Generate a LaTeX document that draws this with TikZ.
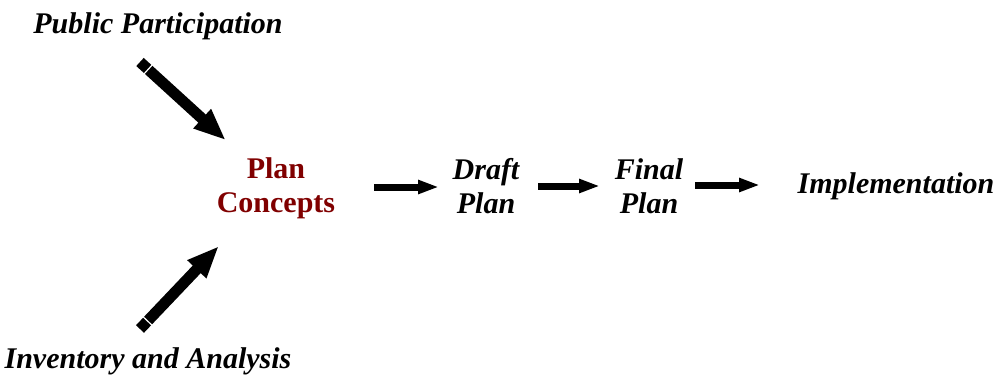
\documentclass[tikz,border=0pt]{standalone}
\usepackage{fontspec}
\setmainfont{Liberation Serif}
\usetikzlibrary{arrows.meta,calc}
\definecolor{maroon}{RGB}{128,0,0}

\tikzset{
  lbl/.style={font=\fontsize{30}{34}\selectfont\bfseries\itshape, align=center, inner sep=0pt, anchor=base},
  bigarrow/.style={line width=11pt, -{Triangle[width=24pt,length=32pt]}},
  smallarrow/.style={line width=7pt, -{Triangle[width=13pt,length=21pt]}},
}

\begin{document}
\begin{tikzpicture}[x=1pt,y=-1pt]
				\useasboundingbox (0,0) rectangle (1005,381);
				\node[lbl] (pp) at (158,33) {Public Participation};
				\node[lbl] (ia) at (148,368) {Inventory and Analysis};
				\node[lbl,font=\fontsize{30}{34}\selectfont\bfseries,text=maroon] (pc) at (276,212) {Plan\\Concepts};
				\node[lbl] (dp) at (486,213) {Draft\\Plan};
				\node[lbl] (fp) at (649,213) {Final\\Plan};
				\node[lbl] (im) at (896,193) {Implementation};
				% tails of the slanted arrows
				\coordinate (ppt) at (140,62);
				\coordinate (iat) at (140,329);
				\coordinate (pcc) at (276,186);
				\draw[bigarrow,shorten >=68pt] (ppt) -- (pcc);
				\draw[bigarrow,shorten >=83pt] (iat) -- (pcc);
				\coordinate (s1) at ($(ppt)!11pt!(pcc)$);
				\coordinate (s2) at ($(iat)!11pt!(pcc)$);
				\draw[white,line width=1.2pt] ($(s1)!6.5pt!90:(pcc)$) -- ($(s1)!6.5pt!-90:(pcc)$);
				\draw[white,line width=1.2pt] ($(s2)!6.5pt!90:(pcc)$) -- ($(s2)!6.5pt!-90:(pcc)$);
				% the flat arrows
				\draw[smallarrow] (374,187) -- (439,187);
				\draw[smallarrow] (538,186) -- (600,186);
				\draw[smallarrow] (695,185) -- (760,185);
			\end{tikzpicture}
\end{document}
